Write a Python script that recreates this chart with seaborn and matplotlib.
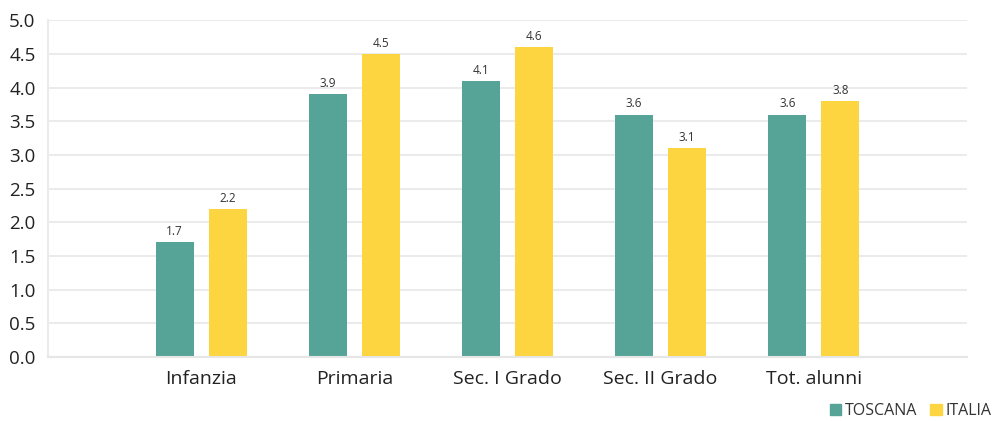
import matplotlib
matplotlib.use("Agg")
import matplotlib.pyplot as plt
import seaborn as sns
import pandas as pd
from matplotlib.patches import Patch

categories = ["Infanzia", "Primaria", "Sec. I Grado", "Sec. II Grado", "Tot. alunni"]
toscana = [1.7, 3.9, 4.1, 3.6, 3.6]
italia = [2.2, 4.5, 4.6, 3.1, 3.8]
series = ["TOSCANA", "ITALIA"]
colors = ["#56a497", "#fdd540"]

df = pd.DataFrame({
    "cat": categories * 2,
    "val": toscana + italia,
    "serie": [series[0]] * len(categories) + [series[1]] * len(categories),
})

sns.set_theme(style="white")
plt.rcParams["font.family"] = ["Open Sans", "DejaVu Sans"]

fig = plt.figure(figsize=(10, 4.21), dpi=100)
ax = fig.add_axes([0.048, 0.152, 0.919, 0.8])

sns.barplot(data=df, x="cat", y="val", hue="serie", palette=colors,
            width=0.69, gap=0.28, ax=ax, legend=False, saturation=1, linewidth=0)

for cont in ax.containers:
    ax.bar_label(cont, fmt="%.1f", padding=3, fontsize=8.5, color="#333333")

ax.set_xlim(-1, 5)
ax.set_ylim(0, 5)
ax.set_yticks([i * 0.5 for i in range(11)])
ax.set_yticklabels([f"{i*0.5:.1f}" for i in range(11)], fontsize=13.5, color="#222222")
ax.set_xticks(range(len(categories)))
ax.set_xticklabels(categories, fontsize=14, color="#222222")
ax.set_xlabel("")
ax.set_ylabel("")
ax.grid(axis="y", color="#ebebeb", linewidth=1.5)
ax.set_axisbelow(True)
for s in ["top", "right"]:
    ax.spines[s].set_visible(False)
ax.spines["left"].set_color("#ebebeb")
ax.spines["bottom"].set_color("#e6e6e6")
ax.spines["left"].set_linewidth(1.5)
ax.spines["bottom"].set_linewidth(1.5)
ax.tick_params(axis="x", length=6, color="#e0e0e0", pad=3, width=1)
ax.tick_params(axis="y", length=0, pad=9)

handles = [Patch(color=c, label=s) for c, s in zip(colors, series)]
fig.legend(handles=handles, loc="lower right", bbox_to_anchor=(1.006, -0.03), ncol=2,
           frameon=False, fontsize=11.5, handlelength=0.7, handleheight=0.7,
           handletextpad=0.25, columnspacing=0.8, labelcolor="#333333")

fig.savefig("out.png", dpi=100)
